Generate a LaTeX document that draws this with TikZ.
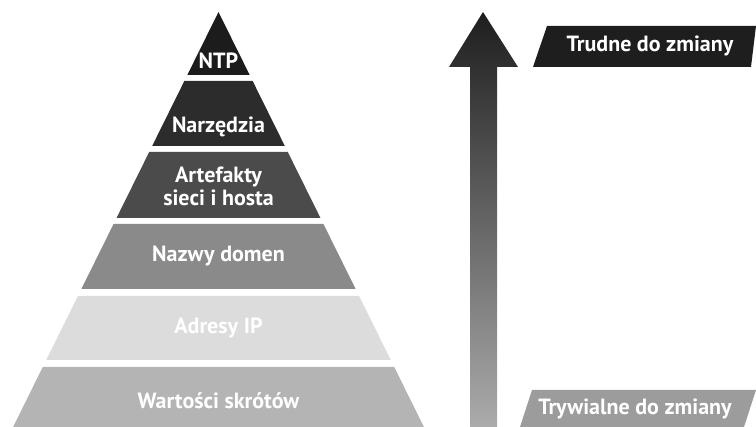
\documentclass[tikz,border=0pt]{standalone}
\usepackage{fontspec}
\setmainfont{PT Sans}
\definecolor{cNTP}{HTML}{1C1C1C}
\definecolor{cNar}{HTML}{2C2C2C}
\definecolor{cArt}{HTML}{4B4B4B}
\definecolor{cDom}{HTML}{8A8A8A}
\definecolor{cIP}{HTML}{DCDCDC}
\definecolor{cHash}{HTML}{B4B4B4}
\definecolor{cTop}{HTML}{1E1E1E}
\definecolor{cBot}{HTML}{9C9C9C}
\definecolor{cArrTop}{HTML}{1E1E1E}
\definecolor{cArrBot}{HTML}{ABABAB}
\tikzset{
  lbl/.style={text=white, font=\bfseries\fontsize{22}{23}\selectfont, align=center, inner sep=0pt},
}
\begin{document}
\begin{tikzpicture}[x=1pt,y=-1pt]
\useasboundingbox (0,0) rectangle (756,427);
\def\ax{218.5}\def\ay{12}\def\s{0.495}
% layers
\fill[cNTP] (\ax,\ay) -- ({\ax+(75-\ay)*\s},75) -- ({\ax-(75-\ay)*\s},75) -- cycle;
\fill[cNar] ({\ax-(81-\ay)*\s},81) -- ({\ax+(81-\ay)*\s},81) -- ({\ax+(146-\ay)*\s},146) -- ({\ax-(146-\ay)*\s},146) -- cycle;
\fill[cArt] ({\ax-(152-\ay)*\s},152) -- ({\ax+(152-\ay)*\s},152) -- ({\ax+(218-\ay)*\s},218) -- ({\ax-(218-\ay)*\s},218) -- cycle;
\fill[cDom] ({\ax-(224-\ay)*\s},224) -- ({\ax+(224-\ay)*\s},224) -- ({\ax+(289-\ay)*\s},289) -- ({\ax-(289-\ay)*\s},289) -- cycle;
\fill[cIP] ({\ax-(296-\ay)*\s},296) -- ({\ax+(296-\ay)*\s},296) -- ({\ax+(360-\ay)*\s},360) -- ({\ax-(360-\ay)*\s},360) -- cycle;
\fill[cHash] ({\ax-(367-\ay)*\s},367) -- ({\ax+(367-\ay)*\s},367) -- ({\ax+(427-\ay)*\s},427) -- ({\ax-(427-\ay)*\s},427) -- cycle;
% texts
\node[lbl] (ntp) at (\ax,61) {NTP};
\node[lbl] (nar) at (\ax,127) {Narzędzia};
\node[lbl] (art) at (\ax,186) {Artefakty\\sieci i hosta};
\node[lbl] (dom) at (\ax,256) {Nazwy domen};
\node[lbl] (ip) at (\ax,328) {Adresy IP};
\node[lbl] (hash) at (\ax,401) {Wartości skrótów};
% arrow
\shade[top color=cArrTop, bottom color=cArrBot]
  (483,12) -- (518,67) -- (497,67) -- (497,427) -- (470,427) -- (470,67) -- (449,67) -- cycle;
% labels
\fill[cTop] (547,26) -- (756,26) -- (751,67) -- (533,67) -- cycle;
\node[lbl] (hard) at (650,46) {Trudne do zmiany};
\fill[cBot] (532,390) -- (756,390) -- (744,427) -- (520,427) -- cycle;
\node[lbl] (easy) at (635,409) {Trywialne do zmiany};
\end{tikzpicture}
\end{document}
